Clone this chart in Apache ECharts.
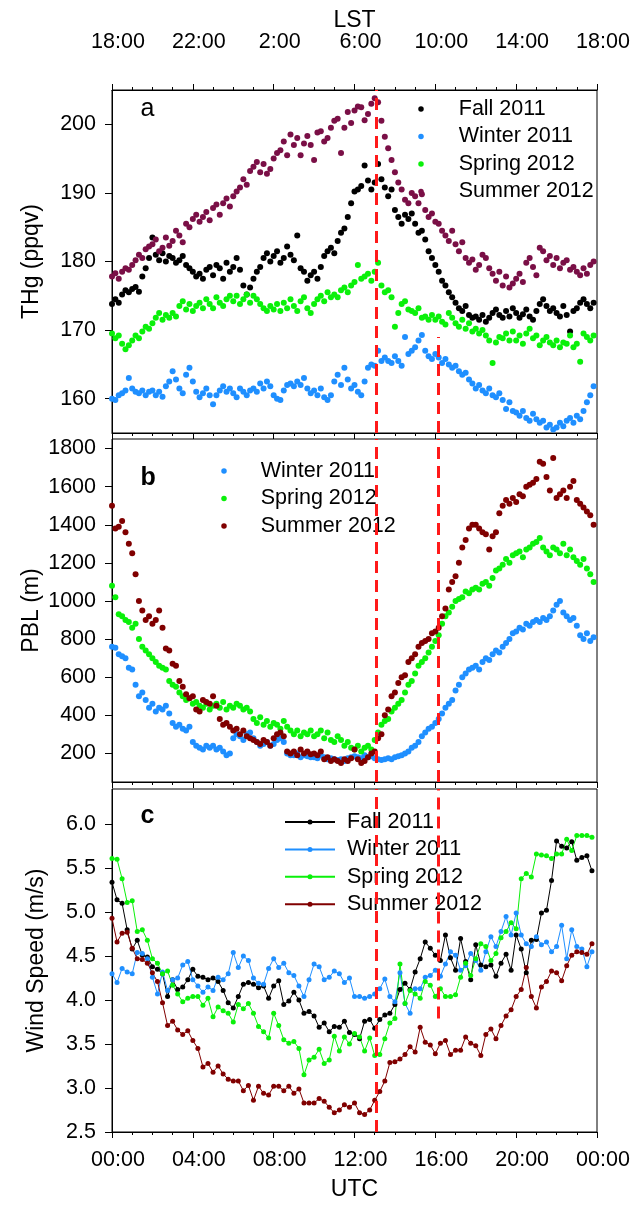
<!DOCTYPE html>
<html>
<head>
<meta charset="utf-8">
<script src="https://cdn.jsdelivr.net/npm/echarts@6/dist/echarts.min.js"></script>
<style>
html,body{margin:0;padding:0;background:#fff;}
#chart{width:633px;height:1206px;}
</style>
</head>
<body>
<div id="chart"></div>
<script>
// ---------------- DATA ----------------
const seasons = ['Fall 2011', 'Winter 2011', 'Spring 2012', 'Summer 2012'];
const utcTicks = [0, 4, 8, 12, 16, 20, 24];
const thgTicks = [160, 170, 180, 190, 200];
const pblTicks = [200, 400, 600, 800, 1000, 1200, 1400, 1600, 1800];
const wsTicks = [2.5, 3.0, 3.5, 4.0, 4.5, 5.0, 5.5, 6.0];
const dashUTC = [13.1, 16.15];       // hours (UTC) of the two red dashed lines
const thgDash2Top = 169;             // second dashed line starts here in panel a
const wsDash2Bottom = 3.79;          // second dashed line ends here in panel c

// Panel a: THg (ppqv), 10-min steps from 00:00 UTC
const thgFall = [
173.8,174.5,174.0,175.2,175.8,175.5, 176.0,176.3,175.6,177.8,179.0,180.5,
183.5,181.0,180.2,181.2,180.0,180.8, 180.5,179.8,180.2,180.8,179.5,179.0,
178.5,177.8,178.2,177.5,178.8,179.2, 178.0,179.5,179.0,177.5,179.8,178.5,
179.2,180.5,178.8,176.5,175.2,176.2, 177.5,178.5,179.2,180.5,181.2,180.0,
180.8,181.5,179.8,180.5,182.2,181.0, 180.2,183.8,179.0,178.5,177.2,178.0,
178.5,177.5,179.2,180.8,181.5,182.0, 181.2,183.0,184.2,184.8,186.5,188.5,
190.2,190.5,191.0,194.0,191.8,190.5, 191.5,194.2,192.0,190.8,189.5,190.5,
187.5,186.5,185.5,186.8,186.2,187.0, 185.5,184.2,184.5,183.2,181.5,180.5,
179.5,178.5,177.2,176.5,175.5,174.8, 174.0,173.2,172.8,173.5,172.2,171.8,
172.0,171.5,172.2,171.2,171.8,172.5, 173.0,172.2,171.8,172.8,172.0,173.2,
172.5,171.8,172.3,173.0,172.0,171.5, 172.8,173.8,174.5,173.5,172.8,173.2,
172.5,172.0,173.5,172.2,169.8,172.8, 173.2,174.0,174.5,173.8,173.2,174.0];
const thgWinter = [
160.0,159.8,160.5,160.8,161.2,163.0, 161.5,161.0,160.8,161.2,160.5,161.0,
161.2,160.5,161.0,160.3,161.8,162.5, 164.0,162.8,161.5,160.8,163.5,164.5,
162.5,161.0,160.2,160.8,161.5,160.5, 159.2,160.5,161.2,161.8,161.0,161.5,
160.8,160.2,161.5,161.0,160.5,161.2, 161.5,161.0,162.2,161.5,162.5,161.8,
160.5,160.0,159.8,161.2,162.0,162.2, 161.8,162.5,162.0,163.0,161.5,160.8,
161.2,160.5,161.5,160.2,159.8,160.5, 162.5,163.5,162.0,164.5,162.8,161.5,
162.0,161.0,160.5,162.5,164.5,165.0, 164.8,167.0,165.5,166.0,165.5,165.2,
166.2,165.5,164.8,169.0,166.5,167.0, 167.5,168.5,169.3,167.0,166.2,165.8,
166.5,166.0,165.2,165.8,165.0,164.5, 164.8,164.0,163.5,163.8,162.8,162.2,
161.5,162.0,161.2,160.8,161.5,160.5, 160.2,160.8,159.8,158.5,159.5,158.2,
158.0,157.5,158.2,157.2,156.8,157.8, 157.0,156.5,156.8,155.8,156.2,155.5,
155.8,156.5,156.0,156.8,157.2,156.5, 157.5,157.0,158.2,159.5,160.5,161.8];
const thgSpring = [
169.5,168.8,169.2,168.0,167.2,167.8, 168.5,169.2,168.8,169.8,170.5,170.2,
171.0,171.8,172.5,171.5,172.2,171.8, 172.5,172.0,173.5,174.2,173.0,173.8,
172.8,173.5,174.0,173.2,174.5,173.8, 173.2,174.8,174.0,173.5,174.5,175.0,
174.2,175.0,173.8,174.5,175.2,174.0, 175.0,174.5,173.8,173.2,172.8,173.5,
173.0,173.8,172.8,174.0,173.2,174.5, 173.5,172.8,174.2,174.8,173.2,172.5,
173.8,174.5,175.0,174.2,175.5,174.8, 175.2,174.8,175.8,176.2,175.5,176.5,
177.0,179.5,177.5,177.8,178.2,177.2, 178.5,179.8,176.5,175.5,175.8,174.8,
170.5,172.5,173.8,174.2,173.0,172.8, 172.5,173.2,171.8,172.0,171.5,172.2,
171.5,172.0,171.2,170.8,172.5,171.8, 171.0,170.5,171.5,170.2,171.0,169.8,
170.2,169.5,170.0,169.2,168.5,165.2, 168.2,169.0,168.8,169.5,168.5,169.8,
168.5,169.2,168.0,169.5,170.2,168.8, 169.2,167.8,168.5,169.0,168.2,167.8,
168.5,167.5,168.2,168.0,169.2,167.5, 168.0,165.4,169.5,169.0,168.5,169.2];
const thgSummer = [
177.8,178.3,177.5,178.5,179.0,178.8, 179.5,180.2,181.0,180.5,181.8,182.2,
182.5,183.2,181.5,182.0,183.5,182.3, 183.0,184.5,183.8,182.8,185.5,185.0,
186.2,186.8,185.8,186.5,187.2,186.0, 187.8,188.3,186.8,188.5,189.2,188.0,
189.5,190.2,190.8,192.0,191.2,193.2, 193.8,194.5,193.0,194.2,192.8,193.5,
195.0,195.8,196.2,197.5,195.5,198.5, 197.0,198.0,195.5,197.2,198.3,197.0,
194.8,198.8,199.0,197.5,198.0,199.5, 200.5,200.8,195.8,199.5,201.8,200.2,
202.0,202.6,202.5,200.6,201.5,203.0, 203.8,203.2,200.5,198.2,196.5,194.8,
193.0,191.5,190.5,189.0,188.5,190.0, 189.5,188.5,189.8,187.5,186.5,187.0,
185.8,185.5,184.5,183.8,183.0,184.5, 182.5,181.5,182.8,180.5,179.8,180.3,
178.8,179.5,181.0,180.5,179.0,178.2, 177.2,178.5,176.5,177.8,176.2,176.8,
177.5,178.2,177.0,179.8,180.5,179.2, 178.0,182.0,181.5,180.2,180.8,179.5,
180.5,179.0,179.8,180.2,178.8,179.2, 178.5,178.0,179.0,178.2,179.5,180.0];

// Panel b: PBL (m), 10-min steps
const pblWinter = [
760,755,720,710,700,650, 640,560,500,520,480,440, 460,420,440,430,450,410,
360,340,350,330,320,340, 260,240,230,220,240,230, 240,220,230,210,190,200,
280,300,290,270,300,310, 280,260,240,250,260,240, 250,270,280,260,200,190,
190,200,180,190,185,180, 180,175,190,180,170,175, 170,165,170,160,175,180,
185,180,175,190,180,185, 175,170,165,170,175,170, 180,185,190,200,210,230,
240,260,290,310,330,340, 360,380,410,440,460,480, 530,560,600,620,640,650,
660,640,680,700,690,720, 740,730,760,780,800,830, 840,860,850,880,870,890,
900,890,910,900,920,950, 980,1000,940,920,900,910, 870,820,800,830,790,810];
const pblSpring = [
1080,1020,930,920,900,890, 860,880,800,760,740,720, 700,680,660,650,640,580,
560,550,520,500,480,490, 460,470,450,440,460,430, 450,460,440,470,430,450,
440,460,450,430,440,420, 380,360,390,350,370,340, 360,350,330,370,340,320,
300,320,290,310,300,320, 290,300,320,280,310,270, 260,290,270,240,260,230,
220,240,210,230,240,220, 270,310,350,370,380,420, 440,460,480,520,560,580,
620,660,680,700,730,760, 790,820,880,920,940,970, 1000,1010,1020,1050,1040,1060,
1070,1060,1090,1100,1080,1120, 1160,1170,1190,1220,1200,1240, 1250,1260,1230,1270,1280,1300,
1310,1330,1280,1260,1240,1280, 1270,1250,1300,1240,1270,1230, 1210,1190,1220,1170,1140,1100];
const pblSummer = [
1500,1380,1390,1420,1360,1300, 1250,1140,1000,950,900,920, 880,900,950,860,750,740,
670,660,580,550,510,490, 500,430,420,480,470,460, 500,450,380,350,360,340,
320,330,300,320,290,280, 270,260,250,270,260,240, 280,300,310,290,210,200,
210,190,220,200,210,195, 200,190,210,170,180,160, 170,160,150,170,160,175,
220,170,150,160,180,200, 210,280,300,400,430,500, 520,570,600,610,680,700,
720,760,780,790,800,830, 840,860,920,960,1060,1100, 1130,1200,1280,1320,1380,1400,
1400,1380,1360,1350,1270,1340, 1360,1460,1500,1530,1510,1540, 1520,1560,1550,1600,1610,1620,
1640,1730,1720,1650,1580,1750, 1540,1560,1580,1540,1600,1630, 1530,1510,1490,1470,1450,1400];

// Panel c: wind speed (m/s), 15-min steps
const wsFall = [
5.34,5.14,5.10,4.80,4.58,4.68,4.51,4.49,4.38,4.35,
4.30,4.04,4.23,4.12,4.15,4.23,4.35,4.27,4.26,4.23,
4.25,4.21,4.11,3.97,3.91,4.04,4.18,4.20,4.18,4.14,
4.16,4.02,4.16,4.22,3.95,3.99,4.09,4.00,3.85,3.87,
3.82,3.69,3.74,3.64,3.70,3.69,3.76,3.63,3.61,3.56,
3.76,3.78,3.68,3.78,3.83,3.85,3.95,4.12,4.19,4.12,
4.32,4.47,4.66,4.59,4.51,4.45,4.74,4.48,4.34,4.70,
4.44,4.23,4.63,4.40,4.38,4.40,4.27,4.42,4.52,4.34,
4.74,4.58,4.31,4.68,4.69,4.99,5.02,5.36,5.81,5.75,
5.73,5.80,5.59,5.62,5.64,5.47];
const wsWinter = [
4.30,4.20,4.36,4.32,4.30,4.54,4.53,4.47,4.26,4.07,
4.32,4.11,4.23,4.25,4.40,4.44,4.23,4.16,4.09,4.15,
4.11,4.26,4.23,4.30,4.54,4.37,4.50,4.45,4.25,4.19,
4.18,4.36,4.47,4.37,4.42,4.31,4.28,4.16,4.04,4.23,
4.41,4.38,4.23,4.26,4.33,4.30,4.20,4.25,4.04,4.04,
4.02,4.04,4.07,4.13,4.24,4.04,3.98,4.31,3.96,3.85,
4.13,4.13,4.26,4.28,4.34,4.27,4.41,4.55,4.51,4.34,
4.39,4.53,4.45,4.34,4.55,4.72,4.61,4.78,4.95,4.74,
4.99,4.74,4.64,4.61,4.72,4.63,4.66,4.55,4.61,4.85,
4.47,4.80,4.61,4.58,4.38,4.55];
const wsSpring = [
5.61,5.60,5.38,5.11,5.13,4.78,4.80,4.68,4.47,4.42,
4.30,4.33,4.17,4.07,3.98,4.02,4.04,4.04,3.94,4.02,
3.81,3.92,3.88,3.85,3.75,3.95,3.90,3.96,3.85,3.70,
3.64,3.57,3.85,3.71,3.55,3.51,3.53,3.45,3.15,3.32,
3.35,3.44,3.28,3.32,3.59,3.42,3.58,3.50,3.62,3.58,
3.42,3.57,3.37,3.38,3.56,3.74,3.79,4.41,3.96,4.11,
4.07,4.02,4.21,4.17,4.04,4.13,4.04,4.04,4.06,4.26,
4.42,4.28,4.47,4.64,4.61,4.45,4.53,4.71,4.78,4.88,
4.81,5.38,5.44,5.40,5.66,5.65,5.64,5.61,5.66,5.66,
5.83,5.70,5.87,5.87,5.87,5.85];
const wsSummer = [
4.93,4.66,4.76,4.77,4.59,4.47,4.46,4.42,4.31,4.21,
3.97,3.71,3.76,3.66,3.61,3.65,3.54,3.45,3.24,3.28,
3.18,3.25,3.16,3.10,3.08,3.08,2.97,3.03,2.86,3.02,
2.94,2.92,3.02,3.02,2.97,3.02,2.94,2.99,2.83,
2.83,2.83,2.88,2.85,2.78,2.72,2.75,2.81,2.78,2.83,
2.72,2.70,2.75,2.86,2.96,3.08,3.29,3.30,3.33,3.38,
3.47,3.41,3.69,3.52,3.49,3.39,3.51,3.54,3.38,3.43,
3.43,3.58,3.51,3.48,3.37,3.61,3.67,3.56,3.71,3.82,
3.89,4.04,4.12,4.37,4.04,3.91,4.15,4.21,4.33,4.31,
4.22,4.39,4.51,4.55,4.54,4.52,4.64];

// ---------------- STYLE ----------------
const FONT = '"Liberation Sans", Arial, Helvetica, sans-serif';
const BLACK = '#000000';
const C = {
  fall: '#000000', winter: '#1f8fff', spring: '#0af00a',
  summerA: '#7a0f46', summerB: '#800000', dash: '#ff1a1a'
};
const TICK_FS = 21.5, NAME_FS = 23, LEG_FS = 21.5;

function toPairs(vals, stepH) { return vals.map((v, i) => [i * stepH, v]); }
function pad2(n) { return (n < 10 ? '0' : '') + n; }

function xAx(gridIndex, position, show, formatter, margin, name, nameGap) {
  return {
    type: 'value', gridIndex, position, min: 0, max: 24, interval: 4,
    axisLine: { show: true, onZero: false, lineStyle: { color: BLACK, width: 1 } },
    axisTick: { show: true, length: 6, lineStyle: { color: BLACK, width: 1 } },
    minorTick: { show: true, splitNumber: 4, length: 3, lineStyle: { color: BLACK, width: 1 } },
    splitLine: { show: false }, minorSplitLine: { show: false },
    axisLabel: { show, formatter, margin, fontSize: TICK_FS, color: BLACK, fontFamily: FONT, padding: [0, 0, 0, 12] },
    name: name || '', nameLocation: 'middle', nameGap: nameGap || 0, nameMoveOverlap: false,
    nameTextStyle: { fontSize: NAME_FS, color: BLACK, fontFamily: FONT }
  };
}
function yAx(gridIndex, min, max, ticks, fmt, name, nameGap) {
  return {
    type: 'value', gridIndex, min, max, position: 'left',
    axisLine: { show: true, onZero: false, lineStyle: { color: BLACK, width: 1 } },
    axisTick: { show: true, length: 7, customValues: ticks, lineStyle: { color: BLACK, width: 1 } },
    axisLabel: { customValues: ticks, formatter: fmt, margin: 16, fontSize: TICK_FS, color: BLACK, fontFamily: FONT },
    splitLine: { show: false },
    name, nameLocation: 'middle', nameGap, nameMoveOverlap: false,
    nameTextStyle: { fontSize: NAME_FS, color: BLACK, fontFamily: FONT }
  };
}
function dashLines(segs) {
  return {
    silent: true, symbol: ['none', 'none'], label: { show: false },
    lineStyle: { color: C.dash, width: 3, type: [12, 7], opacity: 1 },
    emphasis: { disabled: true }, animation: false,
    data: segs.map(s => [{ coord: [s[0], s[1]] }, { coord: [s[0], s[2]] }])
  };
}
function scat(name, xi, yi, vals, color, extra) {
  return Object.assign({
    type: 'scatter', name, xAxisIndex: xi, yAxisIndex: yi,
    data: toPairs(vals, 1 / 6), symbol: 'circle', symbolSize: 6,
    itemStyle: { color, opacity: 1 }, silent: true, animation: false
  }, extra || {});
}
function lin(name, vals, color, extra) {
  return Object.assign({
    type: 'line', name, xAxisIndex: 3, yAxisIndex: 2,
    data: toPairs(vals, 0.25), symbol: 'circle', symbolSize: 5, showSymbol: true,
    lineStyle: { width: 1, color }, itemStyle: { color }, silent: true, animation: false
  }, extra || {});
}
const legText = (p) => ({ fontSize: LEG_FS, fontFamily: FONT, color: BLACK, lineHeight: 22, padding: [0, 0, 0, p] });

const option = {
  animation: false,
  backgroundColor: '#ffffff',
  textStyle: { fontFamily: FONT },
  title: [
    { text: 'a', left: 140.5, top: 97, padding: 0, textStyle: { fontSize: 25, fontWeight: 'normal', color: BLACK, fontFamily: FONT } },
    { text: 'b', left: 140.5, top: 466, padding: 0, textStyle: { fontSize: 25, fontWeight: 'bold', color: BLACK, fontFamily: FONT } },
    { text: 'c', left: 140.5, top: 804, padding: 0, textStyle: { fontSize: 25, fontWeight: 'bold', color: BLACK, fontFamily: FONT } }
  ],
  grid: [
    { left: 112, width: 485, top: 90, height: 343, show: true, borderColor: BLACK, borderWidth: 1, backgroundColor: 'transparent' },
    { left: 112, width: 485, top: 439, height: 343, show: true, borderColor: BLACK, borderWidth: 1, backgroundColor: 'transparent' },
    { left: 112, width: 485, top: 789, height: 343, show: true, borderColor: BLACK, borderWidth: 1, backgroundColor: 'transparent' }
  ],
  xAxis: [
    xAx(0, 'bottom', false, null, 10),
    xAx(0, 'top', true, v => ((v + 18) % 24) + ':00', 37, 'LST', 58),
    xAx(1, 'bottom', false, null, 10),
    xAx(2, 'bottom', true, v => pad2(v % 24) + ':00', 17, 'UTC', 46)
  ],
  yAxis: [
    yAx(0, 155, 205, thgTicks, v => String(v), 'THg (ppqv)', 69),
    yAx(1, 50, 1850, pblTicks, v => String(v), 'PBL (m)', 69),
    yAx(2, 2.5, 6.4, wsTicks, v => v.toFixed(1), 'Wind Speed (m/s)', 64)
  ],
  legend: [
    {
      data: seasons.map(s => 'a:' + s), orient: 'vertical', left: 418.25, top: 98,
      icon: 'circle', itemWidth: 5.5, itemHeight: 5.5, itemGap: 5.5, padding: 0,
      selectedMode: false, formatter: n => n.slice(2), textStyle: legText(30)
    },
    {
      data: ['b:Winter 2011', 'b:Spring 2012', 'b:Summer 2012'], orient: 'vertical', left: 221.25, top: 460,
      icon: 'circle', itemWidth: 5.5, itemHeight: 5.5, itemGap: 5.5, padding: 0,
      selectedMode: false, formatter: n => n.slice(2), textStyle: legText(29)
    },
    {
      data: seasons.map(s => 'c:' + s), orient: 'vertical', left: 284, top: 811,
      itemWidth: 50, itemHeight: 6.25, itemGap: 5.4, padding: 0,
      selectedMode: false, formatter: n => n.slice(2), textStyle: legText(7)
    }
  ],
  series: [
    scat('a:Fall 2011', 0, 0, thgFall, C.fall),
    scat('a:Winter 2011', 0, 0, thgWinter, C.winter),
    scat('a:Spring 2012', 0, 0, thgSpring, C.spring),
    scat('a:Summer 2012', 0, 0, thgSummer, C.summerA, {
      markLine: dashLines([[dashUTC[0], 155, 205], [dashUTC[1], 155, thgDash2Top]])
    }),
    scat('b:Winter 2011', 2, 1, pblWinter, C.winter),
    scat('b:Spring 2012', 2, 1, pblSpring, C.spring),
    scat('b:Summer 2012', 2, 1, pblSummer, C.summerB, {
      markLine: dashLines([[dashUTC[0], 50, 1850], [dashUTC[1], 50, 1850]])
    }),
    lin('c:Fall 2011', wsFall, C.fall),
    lin('c:Winter 2011', wsWinter, C.winter),
    lin('c:Spring 2012', wsSpring, C.spring),
    lin('c:Summer 2012', wsSummer, C.summerB, {
      markLine: dashLines([[dashUTC[0], 2.5, 6.4], [dashUTC[1], wsDash2Bottom, 6.4]])
    })
  ]
};

const chart = echarts.init(document.getElementById('chart'), null, { renderer: 'canvas' });
chart.setOption(option);
</script>
</body>
</html>
